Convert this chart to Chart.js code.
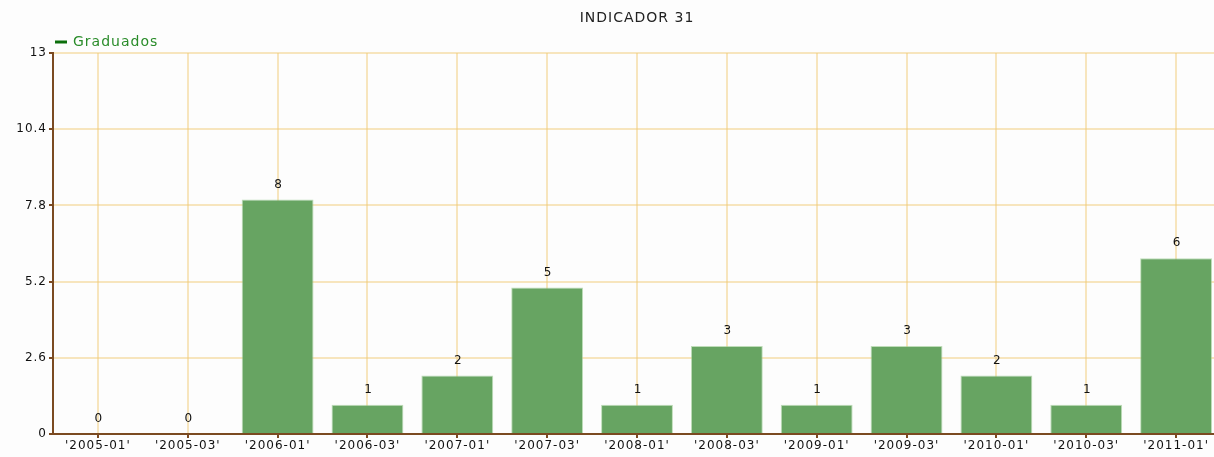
<!DOCTYPE html>
<html>
<head>
<meta charset="utf-8">
<script src="https://cdn.jsdelivr.net/npm/chart.js@4"></script>
<style>
  html, body { margin: 0; padding: 0; background: #fdfdfd; overflow: hidden; }
  #caja { width: 1222px; height: 457px; position: relative; }
</style>
</head>
<body>
<div id="caja"><canvas id="miGrafico"></canvas></div>
<script>
const periodos = ["'2005-01'", "'2005-03'", "'2006-01'", "'2006-03'", "'2007-01'", "'2007-03'", "'2008-01'", "'2008-03'", "'2009-01'", "'2009-03'", "'2010-01'", "'2010-03'", "'2011-01'"]
const graduados = [0, 0, 8, 1, 2, 5, 1, 3, 1, 3, 2, 1, 6]
const marcasY = [0, 2.6, 5.2, 7.8, 10.4, 13]

const marron = '#7b4a21'
const rejilla = 'rgba(240, 200, 110, 0.45)'
const fuente = 'DejaVu Sans, Verdana, sans-serif'

// letras algo separadas, como en el original
const espaciado = {
    id: 'espaciado',
    beforeUpdate(chart) { chart.ctx.letterSpacing = '1px' },
    beforeDraw(chart) { chart.ctx.letterSpacing = '1px' }
}

const textos = {
    id: 'textos',
    afterDraw(chart) {
        const ctx = chart.ctx
        const area = chart.chartArea
        ctx.save()
        ctx.letterSpacing = '1px'
        // titulo
        ctx.fillStyle = '#222'
        ctx.font = '14px ' + fuente
        ctx.textAlign = 'center'
        ctx.textBaseline = 'middle'
        ctx.fillText('INDICADOR 31', (area.left + area.right) / 2, 18)
        // leyenda
        ctx.strokeStyle = '#0b6e0b'
        ctx.lineWidth = 3
        ctx.beginPath()
        ctx.moveTo(55, 42)
        ctx.lineTo(67, 42)
        ctx.stroke()
        ctx.fillStyle = '#2a8c2a'
        ctx.font = '14px ' + fuente
        ctx.textAlign = 'left'
        ctx.fillText('Graduados', 73, 42)
        // valores sobre las barras
        ctx.fillStyle = '#111'
        ctx.font = '12px ' + fuente
        ctx.textAlign = 'center'
        chart.getDatasetMeta(0).data.forEach((barra, i) => {
            ctx.fillText(String(graduados[i]), barra.x + 1, barra.y - 15)
        })
        ctx.restore()
    }
}

new Chart(document.getElementById('miGrafico').getContext('2d'), {
    type: 'bar',
    data: {
        labels: periodos,
        datasets: [{
            label: 'Graduados',
            data: graduados,
            backgroundColor: '#67a462',
            borderColor: 'rgba(150, 200, 140, 0.6)',
            borderWidth: 1,
            categoryPercentage: 0.8,
            barPercentage: 1.0
        }]
    },
    options: {
        responsive: true,
        maintainAspectRatio: false,
        animation: false,
        layout: { padding: { top: 53, left: 0, right: 1, bottom: 0 } },
        plugins: {
            legend: { display: false },
            title: { display: false },
            tooltip: { enabled: false }
        },
        scales: {
            x: {
                z: 1,
                grid: { color: rejilla, offset: false, tickColor: marron, tickLength: 4, lineWidth: 2 },
                border: { color: marron, width: 2 },
                ticks: { color: '#111', font: { family: fuente, size: 12 }, padding: 1, maxRotation: 0, autoSkip: false },
                afterFit(scale) { scale.height = 23 }
            },
            y: {
                z: 1,
                min: 0,
                max: 13,
                afterBuildTicks(scale) { scale.ticks = marcasY.map(v => ({ value: v })) },
                grid: { color: rejilla, tickColor: marron, tickLength: 4, lineWidth: 2 },
                border: { color: marron, width: 2 },
                ticks: { color: '#111', font: { family: fuente, size: 12 }, padding: 2 },
                afterFit(scale) { scale.width = 53 }
            }
        }
    },
    plugins: [espaciado, textos]
})
</script>
</body>
</html>
